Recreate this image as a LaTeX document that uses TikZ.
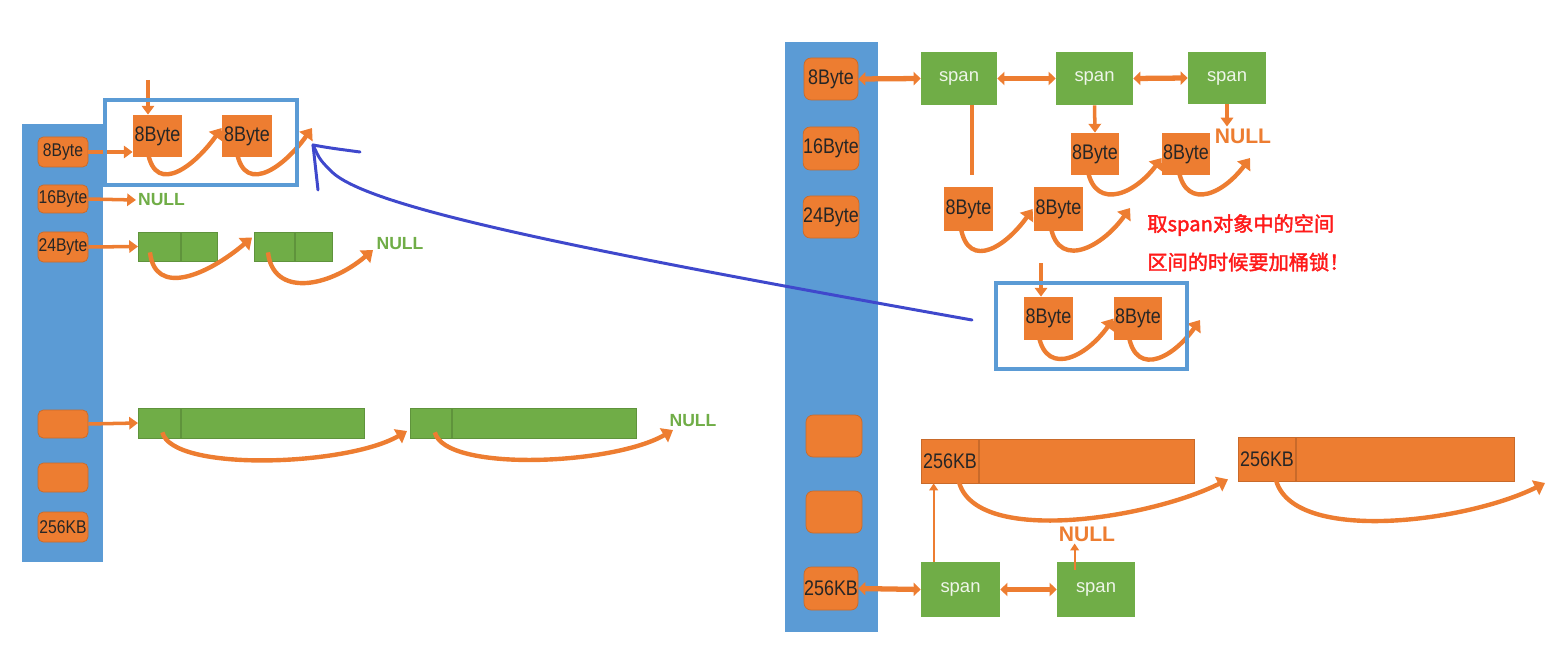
\documentclass[tikz,border=0pt]{standalone}
\usepackage{fontspec}
\setmainfont{Liberation Sans}
\newfontfamily\lblfont{Liberation Sans}[FakeStretch=0.85]
\newfontfamily\cjk{Noto Sans CJK SC}[AutoFakeBold=2]
\usetikzlibrary{arrows.meta,calc,positioning}
\definecolor{bucketblue}{HTML}{5B9BD5}
\definecolor{objorange}{HTML}{ED7D31}
\definecolor{spangreen}{HTML}{70AD47}
\definecolor{penblue}{HTML}{3F48CC}
\definecolor{lockred}{HTML}{FF1A1A}
\tikzset{
  wh/.style 2 args={minimum width=#1*0.02cm,minimum height=#2*0.02cm},
  cls/.style={rectangle,rounded corners=3pt,fill=objorange,draw=objorange!85!black,
    inner sep=0pt,text=black!85,font=\lblfont\fontsize{10.5}{10.5}\selectfont},
  rcls/.style={cls,rounded corners=4pt,font=\lblfont\fontsize{12}{12}\selectfont},
  obj/.style={rectangle,fill=objorange,inner sep=0pt,text=black!85,
    font=\lblfont\fontsize{12}{12}\selectfont},
  pg/.style={rectangle,fill=spangreen,draw=spangreen!85!black,inner sep=0pt},
  pk/.style={rectangle,fill=objorange,draw=objorange!85!black,inner sep=1pt,text=black!85,
    font=\lblfont\fontsize{12}{12}\selectfont},
  spn/.style={rectangle,fill=spangreen,inner sep=0pt,text=white!88!spangreen,
    font=\fontsize{10.5}{10.5}\selectfont},
  nullg/.style={inner sep=1pt,text=spangreen,font=\bfseries\fontsize{10}{10}\selectfont},
  nullo/.style={inner sep=1pt,text=objorange,font=\bfseries\fontsize{12}{12}\selectfont},
  lock/.style={inner sep=0pt,text=lockred,font=\cjk\bfseries\fontsize{11.5}{11.5}\selectfont},
  arr/.style={draw=objorange,line width=2pt,-{Triangle[length=5pt,width=7pt]}},
  tarr/.style={draw=objorange,line width=1.2pt,-{Triangle[length=4pt,width=5pt]}},
  darr/.style={draw=objorange,line width=3pt,
    {Triangle[length=4pt,width=7.5pt]}-{Triangle[length=4pt,width=7.5pt]}},
  stem/.style={draw=objorange,line width=2.5pt},
  curv/.style={draw=objorange,line width=2.5pt,-{Triangle[length=6pt,width=9pt]}},
  sel/.style={draw=bucketblue,line width=2.3pt},
  pen/.style={draw=penblue,line width=1.7pt,line cap=round}
}
\begin{document}
\begin{tikzpicture}[x=0.02cm,y=-0.02cm]
\useasboundingbox (0,0) rectangle (1561,655);
\fill[bucketblue] (22,124) rectangle (103,562);
\node[cls,wh={50}{30}] (l8) at (63,152) {8Byte};
\node[cls,wh={50}{28}] (l16) at (63,199) {16Byte};
\node[cls,wh={50}{30}] (l24) at (63,247) {24Byte};
\node[cls,wh={50}{28}] (le1) at (63,424) {};
\node[cls,wh={50}{29}] (le2) at (63,477.5) {};
\node[cls,wh={50}{30}] (l256) at (63,527) {256KB};
\node[obj,wh={49}{42}] (la1) at (157.5,136) {8Byte};
\node[obj,wh={50}{42}] (la2) at (247,136) {8Byte};
\coordinate (ltop) at (148,80);
\coordinate (la2end) at (312,128);
\draw[arr] (ltop) -- (ltop |- la1.north);
\draw[arr] (l8.east) -- (l8.east -| la1.west);
\draw[curv] ($(la1.south west)+(14,-16)$) .. controls +(3,58) and +(-30,42) .. ($(la2.west)+(0,-8)$);
\draw[curv] ($(la2.south west)+(14,-16)$) .. controls +(3,58) and +(-30,42) .. (la2end);
\draw[sel] (105,100) rectangle (297,185);
\node[nullg] (n16) at (161.5,200) {NULL};
\draw[arr] (l16.east) -- (n16.west);
\node[pg,wh={42}{29},anchor=west] (g1a) at (138,246.5) {};
\node[pg,wh={36}{29},right=0pt of g1a] (g1b) {};
\node[pg,wh={40}{29},anchor=west] (g2a) at (254,246.5) {};
\node[pg,wh={37}{29},right=0pt of g2a] (g2b) {};
\node[nullg] (n24) at (400,244) {NULL};
\coordinate (g2end) at (373,250);
\draw[arr] (l24.east) -- (g1a.west);
\draw[curv] ($(g1a.south west)+(12,-9)$) .. controls +(5,45) and +(-45,38) .. ($(g2a.west)+(-2,-9)$);
\draw[curv] ($(g2a.south west)+(14,-9)$) .. controls +(5,45) and +(-45,38) .. (g2end);
\node[pg,wh={42}{30},anchor=west] (h1a) at (138,423) {};
\node[pg,wh={183}{30},right=0pt of h1a] (h1b) {};
\node[pg,wh={41}{30},anchor=west] (h2a) at (410,423) {};
\node[pg,wh={184}{30},right=0pt of h2a] (h2b) {};
\node[nullg] (nbig) at (693,421) {NULL};
\coordinate (h2end) at (673,430);
\draw[arr] (le1.east) -- (h1a.west);
\draw[curv] ($(h1a.south)+(3,-6)$) .. controls +(10,40) and +(-60,35) .. ($(h2a.west)+(-3,8)$);
\draw[curv] ($(h2a.south)+(4,-6)$) .. controls +(10,40) and +(-60,35) .. (h2end);
\fill[bucketblue] (785,42) rectangle (878,632);
\node[rcls,wh={54}{42}] (r8) at (831,79) {8Byte};
\node[rcls,wh={54}{43}] (r16) at (831,148.5) {16Byte};
\node[rcls,wh={54}{42}] (r24) at (831,217) {24Byte};
\node[rcls,wh={56}{42}] (re1) at (834,436) {};
\node[rcls,wh={56}{42}] (re2) at (834,512) {};
\node[rcls,wh={54}{43}] (r256) at (831,588.5) {256KB};
\node[spn,wh={76}{53}] (s1) at (959,78.5) {span};
\node[spn,wh={77}{53}] (s2) at (1094.5,78.5) {span};
\node[spn,wh={78}{52}] (s3) at (1227,78) {span};
\draw[darr] (r8.east) -- (s1.west);
\draw[darr] (s1.east) -- (s2.west);
\draw[darr] (s2.east) -- (s3.west);
\draw[stem] ($(s1.south)+(13,0)$) -- ++(0,70);
\node[obj,wh={48}{42}] (rb1) at (1095,154) {8Byte};
\node[obj,wh={48}{42}] (rb2) at (1186,154) {8Byte};
\node[nullo] (n3) at (1243,136) {NULL};
\coordinate (rb2end) at (1250,158);
\draw[arr] (s2.south) -- (rb1.north);
\draw[arr] (s3.south) -- (s3.south |- n3.north);
\draw[curv] ($(rb1.south west)+(16,-14)$) .. controls +(3,50) and +(-30,40) .. ($(rb2.west)+(0,4)$);
\draw[curv] ($(rb2.south west)+(16,-14)$) .. controls +(3,50) and +(-30,40) .. (rb2end);
\node[obj,wh={49}{44}] (rc1) at (968.5,209) {8Byte};
\node[obj,wh={49}{44}] (rc2) at (1058.5,209) {8Byte};
\coordinate (rc2end) at (1130,208);
\draw[curv] ($(rc1.south west)+(16,-14)$) .. controls +(3,55) and +(-30,42) .. ($(rc2.west)+(-1,0)$);
\draw[curv] ($(rc2.south west)+(16,-14)$) .. controls +(3,55) and +(-30,42) .. (rc2end);
\node[lock,anchor=west] (lk1) at (1147,225) {取span对象中的空间};
\node[lock,anchor=west] (lk2) at (1147,262) {区间的时候要加桶锁！};
\node[obj,wh={49}{43}] (rd1) at (1048.5,318.5) {8Byte};
\node[obj,wh={48}{43}] (rd2) at (1138,318.5) {8Byte};
\coordinate (rdin) at (1041,263);
\coordinate (rd2end) at (1200,320);
\draw[arr] (rdin) -- (rdin |- rd1.north);
\draw[curv] ($(rd1.south west)+(14,-14)$) .. controls +(3,52) and +(-30,42) .. (rd2.west);
\draw[curv] ($(rd2.south west)+(14,-14)$) .. controls +(3,52) and +(-30,42) .. (rd2end);
\draw[sel] (996,283) rectangle (1187,369);
\node[pk,wh={49}{44},anchor=west] (k1a) at (921,461) {256KB};
\node[pk,wh={215}{44},right=0pt of k1a] (k1b) {};
\node[pk,wh={49}{44},anchor=west] (k2a) at (1238,459) {256KB};
\node[pk,wh={218}{44},right=0pt of k2a] (k2b) {};
\coordinate (k2end) at (1545,483);
\draw[curv] ($(k1a.south)+(8,-6)$) .. controls +(10,70) and +(-80,40) .. ($(k2a.south west)+(-10,-2)$);
\draw[curv] ($(k2a.south)+(8,-6)$) .. controls +(10,70) and +(-80,40) .. (k2end);
\node[spn,wh={79}{55}] (t1) at (960.5,589.5) {span};
\node[spn,wh={78}{55}] (t2) at (1096,589.5) {span};
\node[nullo] (n5) at (1087,534) {NULL};
\draw[darr] (r256.east) -- (t1.west);
\draw[darr] (t1.east) -- (t2.west);
\draw[tarr] ($(t1.north west)+(13,0)$) coordinate (tu) -- (tu |- k1a.south);
\draw[tarr] ($(t2.north west)+(18,8)$) coordinate (tv) -- (tv |- n5.south);
\coordinate (pfrom) at (972,320);
\coordinate (pin) at (313,145);
\draw[pen] (pfrom) .. controls (580,250) and (370,208) .. (332,172) .. controls (320,160) .. (pin);
\draw[pen] (pin) .. controls (330,148) .. (360,152);
\draw[pen] (pin) -- (318,190);
\end{tikzpicture}
\end{document}
